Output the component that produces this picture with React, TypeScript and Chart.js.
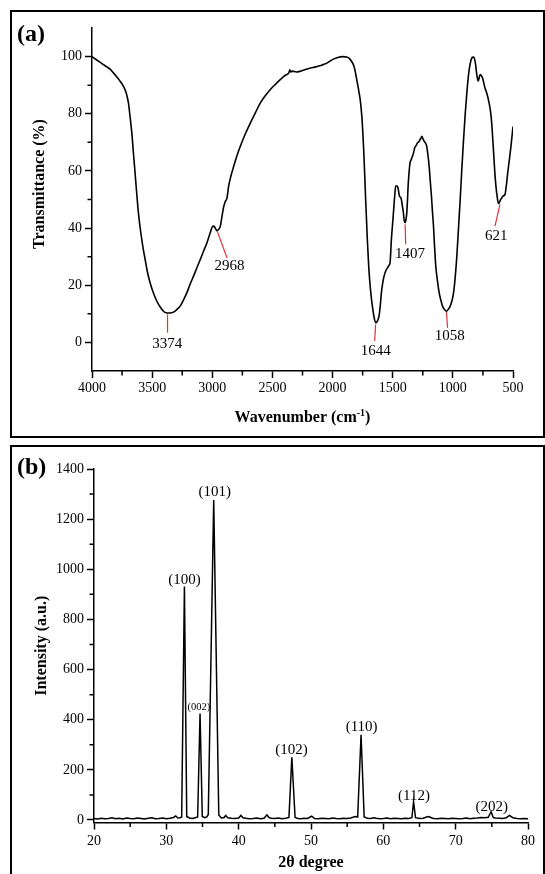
import React, { useEffect, useRef } from "react";
import { Chart, registerables } from "chart.js";

Chart.register(...registerables);

const SERIF = '"Liberation Serif", "Times New Roman", Times, serif';

// ---------------- Panel (a): FTIR ----------------
const ftirWavenumber = [
  4000, 3960, 3920, 3880, 3850, 3822, 3800, 3770, 3739, 3715, 3697, 3685, 3669, 3655, 3642, 3628, 3614, 3600,
  3586, 3572, 3558, 3540, 3517, 3490, 3461, 3430, 3406, 3385, 3364, 3340, 3322, 3295, 3267, 3240, 3211, 3185,
  3156, 3128, 3100, 3072, 3044, 3017, 2994, 2983, 2972, 2960, 2950, 2933, 2919, 2905, 2892, 2878, 2864, 2845,
  2822, 2795, 2767, 2725, 2683, 2640, 2600, 2560, 2517, 2475, 2433, 2395, 2364, 2355, 2348, 2335, 2300, 2267,
  2225, 2183, 2140, 2100, 2070, 2044, 2015, 1989, 1950, 1919, 1890, 1864, 1840, 1822, 1808, 1794, 1780, 1767,
  1753, 1739, 1725, 1711, 1700, 1692, 1680, 1669, 1655, 1642, 1628, 1614, 1603, 1594, 1583, 1572, 1558, 1544,
  1530, 1522, 1511, 1502, 1494, 1484, 1475, 1465, 1456, 1444, 1436, 1428, 1420, 1411, 1404, 1397, 1390, 1383,
  1377, 1372, 1364, 1356, 1346, 1336, 1326, 1317, 1305, 1294, 1283, 1272, 1265, 1258, 1250, 1239, 1228, 1217,
  1207, 1197, 1188, 1178, 1170, 1161, 1152, 1142, 1128, 1114, 1100, 1086, 1070, 1053, 1038, 1022, 1008, 994,
  980, 967, 953, 939, 925, 911, 898, 886, 875, 864, 852, 842, 832, 822, 812, 803, 796, 789, 780, 772, 762, 753,
  743, 733, 722, 711, 700, 689, 682, 675, 668, 661, 652, 642, 630, 621, 614, 607, 600, 590, 580, 567, 555, 544,
  530, 517, 505, 500,
];
const ftirTransmittance = [
  100, 98.8, 97.6, 96.5, 95.6, 94.3, 93.2, 91.6, 89.6, 87.2, 83.8, 79.5, 73.3, 66, 59.3, 52, 45.3, 40.2,
  36, 32.2, 29, 24.8, 20.9, 17.4, 14.4, 12.2, 10.9, 10.4, 10.3, 10.4, 10.6, 11.5, 12.7, 14.8, 17.4, 20.3,
  23.2, 26.1, 29, 32, 34.9, 38.4, 40.7, 40.5, 39.7, 39.0, 39.4, 40.7, 44.2, 47.5, 49.3, 50.5, 54.7, 58.2,
  61.6, 65.3, 68.6, 73, 76.8, 80.5, 83.8, 86.3, 88.5, 90.3, 92, 93.4, 94.3, 95.4, 94.6, 94.9, 94.6, 94.9,
  95.5, 96, 96.4, 96.9, 97.3, 97.8, 98.6, 99.2, 99.8, 100, 99.9, 99.5, 98.2, 96.6, 94, 90.8, 87.5, 83.8,
  76.8, 65.1, 50, 36, 27, 22, 16.5, 12.7, 8.8, 6.9, 7.4, 9.2, 13, 17.4, 20.8, 23.2, 25, 26.1,
  27, 27.9, 36, 41, 45.3, 51, 54.7, 54.8, 54.1, 51.2, 50.8, 50, 47.8, 45.3, 42.5, 41.9, 43, 45.3,
  50, 54.7, 59.5, 62.8, 64, 65.1, 66.5, 68.1, 68.9, 69.8, 70.2, 71, 71.5, 72.1, 71.4, 70.4, 69.8, 68.6,
  65.5, 61.6, 56.5, 51.2, 46, 40.7, 33.5, 26.7, 21.5, 17.4, 14.8, 12.7, 11.5, 10.9, 11.6, 12.7, 14.5, 17.4,
  23, 30.2, 40, 50, 61, 71, 79.5, 86.1, 91.5, 95.5, 98.3, 99.5, 99.8, 99.5, 97.5, 94.3, 92.5, 91.4, 92.8, 93.7, 93.3, 92.5,
  90.8, 89, 87.7, 86.1, 84, 81.5, 79, 75.6, 71, 66.3, 60, 54.7, 50.5, 48.6, 48.9, 49.6, 50.2, 50.8, 51.3, 51.7, 55, 59.3,
  64, 68.6, 73.5, 75.5,
];
const ftirXTicks = [4000, 3500, 3000, 2500, 2000, 1500, 1000, 500];
const ftirXMinorTicks = [3750, 3250, 2750, 2250, 1750, 1250, 750];
const ftirYTicks = [0, 20, 40, 60, 80, 100];
const ftirYMinorTicks = [10, 30, 50, 70, 90];
const ftirPeakLabels = ["3374", "2968", "1644", "1407", "1058", "621"];
const ftirPeakLineStart = [[3372, 9.8], [2956, 38.6], [1642, 6.3], [1397, 41.3], [1053, 10.6], [608, 48.3]];
const ftirPeakLineEnd = [[3372, 3.4], [2878, 29.6], [1650, 0.5], [1392, 34.3], [1044, 5.1], [650, 40.7]];
const ftirPeakLabelAt = [[3375, -0.7], [2856, 26.7], [1642, -3.0], [1356, 30.8], [1025, 2.2], [640, 37.2]];

// ---------------- Panel (b): XRD ----------------
const xrdAngle = [
  20.0, 20.5, 21.0, 21.5, 22.0, 22.5, 23.0, 23.5, 24.0, 24.5, 25.0, 25.5, 26.0, 26.5, 27.0, 27.5, 28.0, 28.5,
  29.0, 29.5, 30.0, 30.5, 31.0, 31.3, 31.6, 31.9, 32.12, 32.5, 32.82, 33.2, 33.6, 34.0, 34.33, 34.66, 34.97,
  35.3, 35.6, 35.8, 36.55, 37.25, 37.6, 38.0, 38.2, 38.5, 39.0, 39.5, 40.0, 40.3, 40.6, 41.0, 41.5, 42.0, 42.5,
  43.0, 43.5, 43.9, 44.2, 44.5, 45.0, 45.5, 46.0, 46.5, 46.95, 47.35, 47.8, 48.2, 48.6, 49.0, 49.5, 50.1, 50.5,
  51.0, 51.5, 52.0, 52.5, 53.0, 53.5, 54.0, 54.5, 55.0, 55.5, 56.1, 56.45, 56.92, 57.35, 57.8, 58.2, 58.7,
  59.0, 59.5, 60.0, 60.5, 61.0, 61.5, 62.0, 62.5, 63.0, 63.5, 63.95, 64.18, 64.45, 65.0, 65.5, 66.0, 66.3,
  66.7, 67.0, 67.5, 68.0, 68.5, 69.0, 69.5, 70.0, 70.5, 71.0, 71.5, 72.0, 72.5, 73.0, 73.5, 74.0, 74.5, 74.9,
  75.2, 75.5, 76.0, 76.5, 77.0, 77.45, 77.9, 78.5, 79.0, 79.5, 80.0,
];
const xrdIntensity = [
  6, 4, 7, 5, 6, 9, 5, 7, 4, 8, 6, 5, 8, 6, 4, 7, 9, 5,
  6, 8, 5, 7, 10, 16, 8, 9, 12, 931, 14, 8, 6, 9, 12, 425, 14,
  9, 12, 22, 1276, 20, 8, 10, 18, 9, 7, 6, 8, 18, 9, 7, 5, 6, 8,
  5, 7, 20, 10, 7, 6, 8, 5, 7, 10, 250, 10, 6, 5, 7, 6, 15, 6,
  5, 7, 6, 5, 8, 6, 5, 7, 6, 8, 14, 12, 340, 12, 7, 6, 9,
  7, 5, 6, 8, 5, 7, 6, 5, 7, 6, 9, 73, 9, 6, 7, 12, 14,
  8, 6, 5, 7, 6, 5, 7, 6, 5, 6, 8, 5, 7, 8, 10, 9, 11, 33,
  10, 8, 7, 6, 9, 18, 9, 6, 5, 6, 5,
];
const xrdXTicks = [20, 30, 40, 50, 60, 70, 80];
const xrdXMinorTicks = [25, 35, 45, 55, 65, 75];
const xrdYTicks = [0, 200, 400, 600, 800, 1000, 1200, 1400];
const xrdYMinorTicks = [100, 300, 500, 700, 900, 1100, 1300];
const xrdPlaneLabels = ["(100)", "(002)", "(101)", "(102)", "(110)", "(112)", "(202)"];
const xrdPlaneAngle = [32.5, 34.5, 36.7, 47.3, 57.0, 64.25, 75.0];
const xrdPlaneIntensity = [957, 450, 1310, 279, 372, 94, 52];
const xrdSmallLabels = ["(002)"];

// ---------------- helpers ----------------
function minorTickPlugin(xMinor: number[], yMinor: number[]) {
  return {
    id: "minorTicks",
    afterDraw(chart: any) {
      const { ctx, chartArea } = chart;
      const xs = chart.scales.x;
      const ys = chart.scales.y;
      ctx.save();
      ctx.strokeStyle = "#000";
      ctx.lineWidth = 1.5;
      ctx.beginPath();
      xMinor.forEach((v) => {
        const p = xs.getPixelForValue(v);
        ctx.moveTo(p, chartArea.bottom);
        ctx.lineTo(p, chartArea.bottom + 4.5);
      });
      yMinor.forEach((v) => {
        const p = ys.getPixelForValue(v);
        ctx.moveTo(chartArea.left, p);
        ctx.lineTo(chartArea.left - 4.5, p);
      });
      ctx.stroke();
      ctx.restore();
    },
  };
}

function drawRotatedTitle(ctx: any, text: string, x: number, y: number) {
  ctx.save();
  ctx.translate(x, y);
  ctx.rotate(-Math.PI / 2);
  ctx.font = `bold 16px ${SERIF}`;
  ctx.fillStyle = "#000";
  ctx.textAlign = "center";
  ctx.textBaseline = "middle";
  ctx.fillText(text, 0, 0);
  ctx.restore();
}

function drawSupTitle(ctx: any, cx: number, cy: number, base: string, sup: string, tail: string) {
  const big = `bold 16px ${SERIF}`;
  const small = `bold 10px ${SERIF}`;
  ctx.save();
  ctx.fillStyle = "#000";
  ctx.textBaseline = "middle";
  ctx.textAlign = "left";
  ctx.font = big;
  const w1 = ctx.measureText(base).width;
  const w3 = ctx.measureText(tail).width;
  ctx.font = small;
  const w2 = ctx.measureText(sup).width;
  let x = cx - (w1 + w2 + w3) / 2;
  ctx.font = big;
  ctx.fillText(base, x, cy);
  x += w1;
  ctx.font = small;
  ctx.fillText(sup, x, cy - 5);
  x += w2;
  ctx.font = big;
  ctx.fillText(tail, x, cy);
  ctx.restore();
}

const ftirDecor = {
  id: "ftirDecor",
  afterDraw(chart: any) {
    const { ctx, chartArea: ca } = chart;
    const xs = chart.scales.x;
    const ys = chart.scales.y;
    ctx.save();
    ctx.strokeStyle = "#e0343a";
    ctx.lineWidth = 1.2;
    ftirPeakLabels.forEach((_, i) => {
      ctx.beginPath();
      ctx.moveTo(xs.getPixelForValue(ftirPeakLineStart[i][0]), ys.getPixelForValue(ftirPeakLineStart[i][1]));
      ctx.lineTo(xs.getPixelForValue(ftirPeakLineEnd[i][0]), ys.getPixelForValue(ftirPeakLineEnd[i][1]));
      ctx.stroke();
    });
    ctx.fillStyle = "#000";
    ctx.font = `15px ${SERIF}`;
    ctx.textAlign = "center";
    ctx.textBaseline = "middle";
    ftirPeakLabels.forEach((lab, i) => {
      ctx.fillText(lab, xs.getPixelForValue(ftirPeakLabelAt[i][0]), ys.getPixelForValue(ftirPeakLabelAt[i][1]));
    });
    ctx.restore();
    drawRotatedTitle(ctx, "Transmittance (%)", ca.left - 52, ca.top + (ca.bottom - ca.top) * 0.455);
    drawSupTitle(ctx, (ca.left + ca.right) / 2, ca.bottom + 47, "Wavenumber (cm", "-1", ")");
    ctx.save();
    ctx.font = `bold 24px ${SERIF}`;
    ctx.fillStyle = "#000";
    ctx.textAlign = "left";
    ctx.textBaseline = "middle";
    ctx.fillText("(a)", 17, 35);
    ctx.restore();
  },
};

const xrdDecor = {
  id: "xrdDecor",
  afterDraw(chart: any) {
    const { ctx, chartArea: ca } = chart;
    const xs = chart.scales.x;
    const ys = chart.scales.y;
    ctx.save();
    ctx.fillStyle = "#000";
    ctx.textAlign = "center";
    ctx.textBaseline = "middle";
    xrdPlaneLabels.forEach((lab, i) => {
      ctx.font = xrdSmallLabels.includes(lab) ? `10.5px ${SERIF}` : `15px ${SERIF}`;
      ctx.fillText(lab, xs.getPixelForValue(xrdPlaneAngle[i]), ys.getPixelForValue(xrdPlaneIntensity[i]));
    });
    ctx.restore();
    drawRotatedTitle(ctx, "Intensity (a.u.)", ca.left - 52, (ca.top + ca.bottom) / 2);
    ctx.save();
    ctx.font = `bold 16px ${SERIF}`;
    ctx.fillStyle = "#000";
    ctx.textAlign = "center";
    ctx.textBaseline = "middle";
    ctx.fillText("2θ degree", (ca.left + ca.right) / 2, ca.bottom + 40.5);
    ctx.font = `bold 24px ${SERIF}`;
    ctx.textAlign = "left";
    ctx.fillText("(b)", 17, 28);
    ctx.restore();
  },
};

type Spec = {
  xs: number[];
  ys: number[];
  xMin: number;
  xMax: number;
  yMin: number;
  yMax: number;
  reverse: boolean;
  xTicks: number[];
  yTicks: number[];
  xMinor: number[];
  yMinor: number[];
  padding: { left: number; top: number; right: number; bottom: number };
  yAxisWidth: number;
  xAxisHeight: number;
  xLabelPad: number;
  lineWidth: number;
  smooth: boolean;
  decor: any;
};

function buildConfig(s: Spec): any {
  const tickFont = { family: SERIF, size: 14 };
  return {
    type: "line",
    data: {
      datasets: [
        {
          data: s.xs.map((x, i) => ({ x, y: s.ys[i] })),
          borderColor: "#000",
          borderWidth: s.lineWidth,
          pointRadius: 0,
          fill: false,
          tension: 0,
          cubicInterpolationMode: s.smooth ? "monotone" : "default",
        },
      ],
    },
    options: {
      animation: false,
      responsive: true,
      maintainAspectRatio: false,
      devicePixelRatio: 1,
      events: [],
      layout: { padding: s.padding },
      plugins: { legend: { display: false }, tooltip: { enabled: false }, title: { display: false } },
      scales: {
        x: {
          type: "linear",
          min: s.xMin,
          max: s.xMax,
          reverse: s.reverse,
          afterBuildTicks: (axis: any) => {
            axis.ticks = s.xTicks.map((v) => ({ value: v }));
          },
          afterFit: (axis: any) => {
            axis.height = s.xAxisHeight;
          },
          ticks: {
            autoSkip: false,
            maxRotation: 0,
            color: "#000",
            font: tickFont,
            padding: s.xLabelPad,
            callback: (v: any) => String(v),
          },
          grid: { drawOnChartArea: false, drawTicks: true, tickLength: 7, tickColor: "#000", tickWidth: 1.5 },
          border: { display: true, color: "#000", width: 1.5 },
        },
        y: {
          type: "linear",
          min: s.yMin,
          max: s.yMax,
          afterBuildTicks: (axis: any) => {
            axis.ticks = s.yTicks.map((v) => ({ value: v }));
          },
          afterFit: (axis: any) => {
            axis.width = s.yAxisWidth;
          },
          ticks: { color: "#000", font: tickFont, padding: 3, callback: (v: any) => String(v) },
          grid: { drawOnChartArea: false, drawTicks: true, tickLength: 7, tickColor: "#000", tickWidth: 1.5 },
          border: { display: true, color: "#000", width: 1.5 },
        },
      },
    },
    plugins: [minorTickPlugin(s.xMinor, s.yMinor), s.decor],
  };
}

function ChartPanel({ spec, top, height }: { spec: Spec; top: number; height: number }) {
  const ref = useRef<HTMLCanvasElement | null>(null);
  useEffect(() => {
    if (!ref.current) return;
    const chart = new Chart(ref.current, buildConfig(spec));
    return () => chart.destroy();
  }, [spec]);
  return (
    <div style={{ position: "absolute", left: 0, top, width: 545, height }}>
      <canvas ref={ref} />
    </div>
  );
}

const ftirSpec: Spec = {
  xs: ftirWavenumber,
  ys: ftirTransmittance,
  xMin: 500,
  xMax: 4000,
  yMin: -10,
  yMax: 110,
  reverse: true,
  xTicks: ftirXTicks,
  yTicks: ftirYTicks,
  xMinor: ftirXMinorTicks,
  yMinor: ftirYMinorTicks,
  padding: { left: 0, top: 28, right: 32, bottom: 29 },
  yAxisWidth: 92,
  xAxisHeight: 40,
  xLabelPad: 2,
  lineWidth: 1.6,
  smooth: true,
  decor: ftirDecor,
};

const xrdSpec: Spec = {
  xs: xrdAngle,
  ys: xrdIntensity,
  xMin: 20,
  xMax: 80,
  yMin: -10,
  yMax: 1400,
  reverse: false,
  xTicks: xrdXTicks,
  yTicks: xrdYTicks,
  xMinor: xrdXMinorTicks,
  yMinor: xrdYMinorTicks,
  padding: { left: 0, top: 29, right: 17, bottom: 11.5 },
  yAxisWidth: 94,
  xAxisHeight: 40,
  xLabelPad: 3,
  lineWidth: 1.5,
  smooth: false,
  decor: xrdDecor,
};

export default function App() {
  return (
    <div style={{ position: "absolute", left: 0, top: 0, width: 545, height: 874, overflow: "hidden", background: "#fff" }}>
      <div style={{ position: "absolute", left: 10, top: 10, width: 535, height: 428, border: "2px solid #000", boxSizing: "border-box" }} />
      <div style={{ position: "absolute", left: 10, top: 445, width: 535, height: 440, border: "2px solid #000", boxSizing: "border-box" }} />
      <ChartPanel spec={ftirSpec} top={0} height={440} />
      <ChartPanel spec={xrdSpec} top={440} height={434} />
    </div>
  );
}
